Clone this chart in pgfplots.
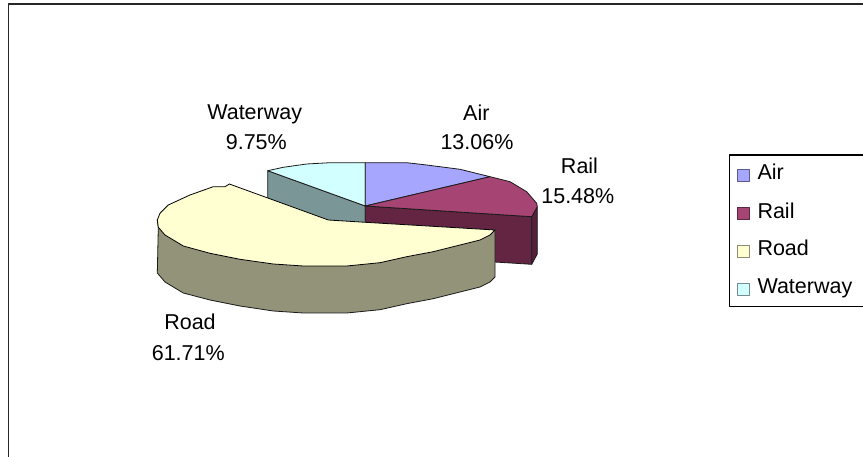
\documentclass[border=0pt]{standalone}
\usepackage{pgfplots}
\pgfplotsset{compat=1.18}
\usepackage{fontspec}
\setmainfont{Liberation Sans}
\definecolor{airtop}{HTML}{A6A6FF}
\definecolor{railtop}{HTML}{A64573}
\definecolor{roadtop}{HTML}{FFFFD2}
\definecolor{watertop}{HTML}{D2FFFF}
\definecolor{railside}{HTML}{632542}
\definecolor{railrim}{HTML}{55203A}
\definecolor{roadside}{HTML}{93937A}
\definecolor{waterside}{HTML}{7B9696}
\definecolor{edge}{HTML}{1A1A1A}
\begin{document}
\begin{tikzpicture}
\clip (0,0) rectangle (863pt,457pt);
\begin{axis}[
  at={(0,0)}, anchor=south west,
  scale only axis, width=863pt, height=457pt,
  xmin=0, xmax=863, ymin=0, ymax=457, y dir=reverse,
  hide axis, clip=true,
  every axis plot/.append style={line width=0.8pt, line join=round},
]
% outer frame of the chart area
\addplot[draw=black!85, line width=1.6pt] coordinates {(8.5,470) (8.5,4) (880,4)};
% hidden walls of the two rear slices and of Rail
\addplot[fill=waterside, draw=edge] coordinates {(267.7,170.7) (365.3,206) (365.3,254) (267.7,218)} --cycle;
\addplot[fill=railside, draw=edge] coordinates {(365.3,206) (531.7,216.7) (531.7,264.3) (365.3,254)} --cycle;
\addplot[fill=railrim, draw=edge] coordinates {(531.7,216.7) (537.3,206.7) (537.3,254) (531.7,264.3)} --cycle;
% top faces of the rear slices
\addplot[fill=watertop, draw=edge] coordinates {(365.3,206) (365.3,162.7) (330,162.7) (306.7,164) (283.3,167.3) (267.7,170.7)} --cycle;
\addplot[fill=airtop, draw=edge] coordinates {(365.3,206) (365.3,162.7) (406.7,162.7) (426.7,165) (460,169.3) (490,176.7)} --cycle;
\addplot[fill=railtop, draw=edge] coordinates {(365.3,206) (490,176.7) (510,181.7) (526.7,191.7) (536.7,203.3) (537.3,206.7) (531.7,216.7)} --cycle;
% exploded Road slice: wall, then top
\addplot[fill=roadside, draw=edge] coordinates {(157.3,220) (158.3,227.3) (157.3,273) (165,282) (183.3,293) (210,300) (240,306) (273.3,311) (303.3,313) (346.7,313) (380,309.7) (406.7,303.7) (433.3,298.7) (460,292) (480,287) (490,282) (495,277) (495,230)} --cycle;
\addplot[fill=roadtop, draw=black] coordinates {(328.3,220) (229.3,184) (225,186.7) (213.3,186.7) (190,195) (168.3,205) (160,213.3) (157.3,220) (158.3,227.3) (165,235) (183.3,246) (210,253.3) (240,259.3) (273.3,264) (303.3,266) (346.7,266) (380,262.7) (406.7,256.7) (433.3,251.7) (460,245) (480,240) (490,235) (495,230) (365.3,222.3)} --cycle;
% legend frame and swatches
\addplot[draw=black, fill=white, line width=1.2pt] coordinates {(880,155) (729.5,155) (729.5,306.5) (880,306.5)};
\addplot[fill=airtop, draw=airtop!55!black] coordinates {(737,169.5) (749,169.5) (749,181.5) (737,181.5)} --cycle;
\addplot[fill=railtop, draw=railtop!55!black] coordinates {(737,207.5) (749,207.5) (749,219.5) (737,219.5)} --cycle;
\addplot[fill=roadtop, draw=roadtop!55!black] coordinates {(737,245) (749,245) (749,257) (737,257)} --cycle;
\addplot[fill=watertop, draw=watertop!55!black] coordinates {(737,283) (749,283) (749,295) (737,295)} --cycle;
% slice labels and legend entries
\tikzset{lab/.style={font=\fontsize{21.5}{25}\selectfont, text=black, inner sep=0pt, anchor=base},
         leg/.style={font=\fontsize{21.5}{25}\selectfont, text=black, inner sep=0pt, anchor=base west}}
\node[lab] at (axis cs:254.7,119.3) {Waterway};
\node[lab] at (axis cs:256.3,149.3) {9.75\%};
\node[lab] at (axis cs:476.3,121) {Air};
\node[lab] at (axis cs:477,150) {13.06\%};
\node[lab] at (axis cs:579.5,174) {Rail};
\node[lab] at (axis cs:577.8,204) {15.48\%};
\node[lab] at (axis cs:190,330) {Road};
\node[lab] at (axis cs:188.3,360) {61.71\%};
\node[leg] at (axis cs:757.3,180) {Air};
\node[leg] at (axis cs:757.3,218.3) {Rail};
\node[leg] at (axis cs:757.3,256) {Road};
\node[leg] at (axis cs:757.3,294) {Waterway};
\end{axis}
\end{tikzpicture}
\end{document}
